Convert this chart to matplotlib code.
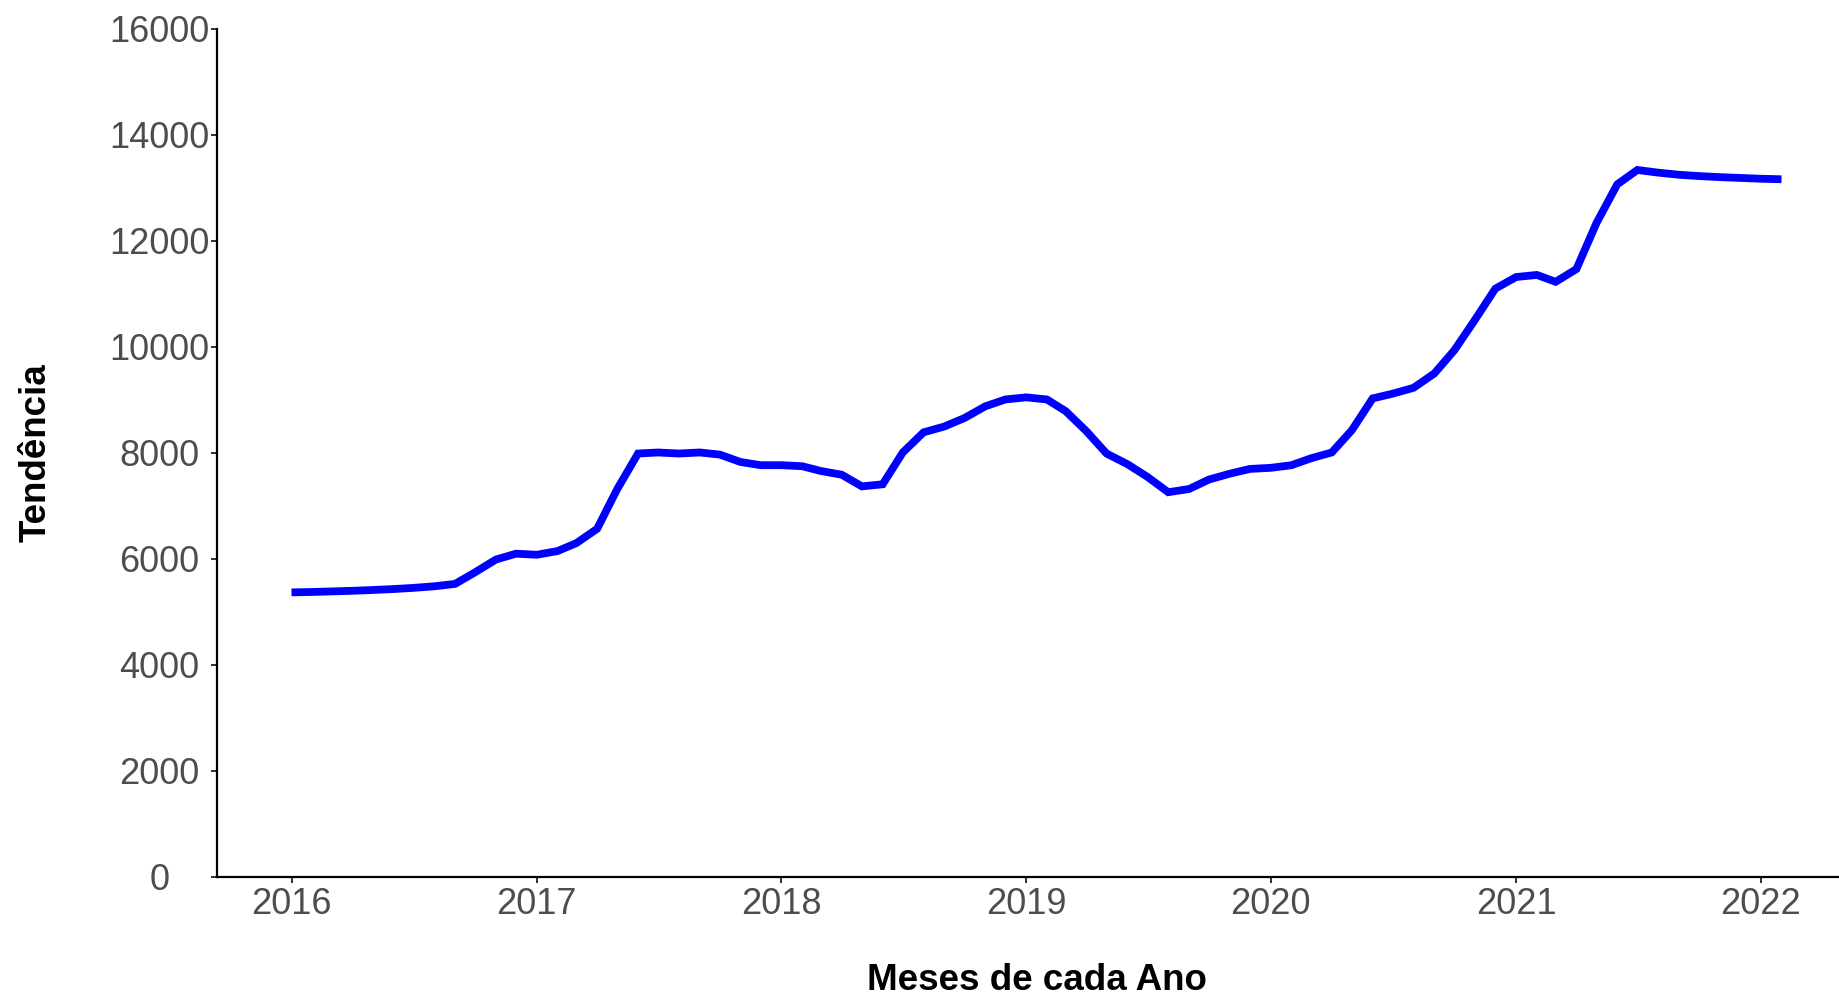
import matplotlib
matplotlib.use("Agg")
import matplotlib.pyplot as plt
import pandas as pd

plt.rcParams['font.family'] = ['Liberation Sans', 'DejaVu Sans']

# Monthly trend values, Jan 2016 .. Feb 2022
start_month = "2016-01-01"
trend = [
    5370, 5378, 5388, 5400, 5415, 5433, 5455, 5485, 5530,   # 2016-01..09
    5750, 5990, 6100,                                       # 2016-10..12
    6080, 6150, 6300, 6570, 7320, 7990, 8010, 7990, 8010, 7970, 7830, 7770,   # 2017
    7770, 7750, 7660, 7590, 7370, 7410, 8010, 8390, 8500, 8660, 8880, 9010,   # 2018
    9050, 9010, 8790, 8410, 7990, 7790, 7550, 7260, 7320, 7500, 7610, 7700,   # 2019
    7720, 7770, 7900, 8010, 8430, 9030, 9120, 9230, 9500, 9940, 10520, 11100, # 2020
    11320, 11360, 11230, 11470, 12340, 13070, 13340, 13290, 13250, 13225, 13205, 13190,  # 2021
    13175, 13165,                                           # 2022-01..02
]
year_ticks = ["2016", "2017", "2018", "2019", "2020", "2021", "2022"]
y_ticks = [0, 2000, 4000, 6000, 8000, 10000, 12000, 14000, 16000]
x_title = "Meses de cada Ano"
y_title = "Tendência"

dates = pd.date_range(start_month, periods=len(trend), freq="MS")

W, H = 1839, 1000
fig = plt.figure(figsize=(W / 100, H / 100), dpi=100)
left, right, bottom, top = 217, 1856, 877, 29
ax = fig.add_axes([left / W, 1 - bottom / H, (right - left) / W, (bottom - top) / H])

ax.plot(dates, trend, color="#0000FF", linewidth=5.6, solid_joinstyle="miter",
        solid_capstyle="butt")

ax.margins(x=0.05)
ax.set_ylim(0, 16000)
ax.set_yticks(y_ticks)
ax.set_yticklabels([str(v) for v in y_ticks])
ax.set_xticks([pd.Timestamp(f"{y}-01-01") for y in year_ticks])
ax.set_xticklabels(year_ticks)

for s in ["top", "right"]:
    ax.spines[s].set_visible(False)
for s in ["left", "bottom"]:
    ax.spines[s].set_color("black")
    ax.spines[s].set_linewidth(1.6)

ax.tick_params(axis="both", colors="#333333", length=4.5, width=1.4,
               labelcolor="#4D4D4D", labelsize=26)
ax.tick_params(axis="x", pad=3)
ax.tick_params(axis="y", pad=37)
for lab in ax.get_yticklabels():
    lab.set_horizontalalignment("center")

ax.set_xlabel(x_title, fontsize=26.5, fontweight="bold", color="black")
ax.set_ylabel(y_title, fontsize=26.5, fontweight="bold", color="black")
ax.xaxis.set_label_coords(0.5, (bottom - 980) / (bottom - top))
ax.xaxis.label.set_va("center")
ax.yaxis.set_label_coords((36 - left) / (right - left), 0.5)
ax.yaxis.label.set_va("center")

fig.savefig("out.png", dpi=100, facecolor="white")
